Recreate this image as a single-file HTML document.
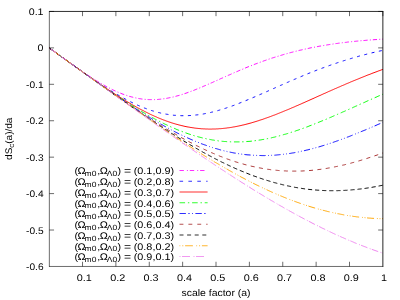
<!DOCTYPE html>
<html><head><meta charset="utf-8"><title>dSc(a)/da</title>
<style>html,body{margin:0;padding:0;background:#fff;}body{width:400px;height:300px;overflow:hidden;}svg{display:block;will-change:transform;}text{font-family:"Liberation Sans", sans-serif;fill:#000;text-rendering:geometricPrecision;}</style>
</head><body>
<svg width="400" height="300" viewBox="0 0 400 300">
<rect x="0" y="0" width="400" height="300" fill="#ffffff"/>
<g fill="none" stroke-width="0.95" stroke-linecap="butt" stroke-linejoin="round">
<polyline stroke="#ff00ff" stroke-dasharray="4.2 2.2 1.0 2.0" points="49.1,47.9 50.1,48.6 51.1,49.3 52.1,50.0 53.1,50.7 54.1,51.4 55.1,52.1 56.0,52.8 57.0,53.6 58.0,54.3 59.0,55.0 60.0,55.7 61.0,56.4 61.9,57.1 62.9,57.8 63.9,58.5 64.9,59.2 65.9,59.9 66.9,60.6 67.9,61.3 68.8,62.0 69.8,62.7 70.8,63.4 71.8,64.1 72.8,64.8 73.8,65.5 74.7,66.2 75.7,66.9 76.7,67.6 77.7,68.3 78.7,69.0 79.7,69.6 80.7,70.3 81.6,71.0 82.6,71.7 83.6,72.3 84.6,73.0 85.6,73.7 86.6,74.3 87.5,75.0 88.5,75.6 89.5,76.3 90.5,76.9 91.5,77.6 92.5,78.2 93.4,78.8 94.4,79.5 95.4,80.1 96.4,80.7 97.4,81.3 98.4,81.9 99.4,82.5 100.3,83.1 101.3,83.6 102.3,84.2 103.3,84.8 104.3,85.3 105.3,85.9 106.2,86.4 107.2,86.9 108.2,87.5 109.2,88.0 110.2,88.5 111.2,89.0 112.2,89.5 113.1,90.0 114.1,90.4 115.1,90.9 116.1,91.3 117.1,91.8 118.1,92.2 119.0,92.6 120.0,93.0 121.0,93.4 122.0,93.8 123.0,94.2 124.0,94.5 125.0,94.9 125.9,95.2 126.9,95.5 127.9,95.9 128.9,96.2 129.9,96.5 130.9,96.7 131.8,97.0 132.8,97.2 133.8,97.5 134.8,97.7 135.8,97.9 136.8,98.1 137.7,98.3 138.7,98.5 139.7,98.7 140.7,98.8 141.7,99.0 142.7,99.1 143.7,99.2 144.6,99.3 145.6,99.4 146.6,99.5 147.6,99.5 148.6,99.6 149.6,99.6 150.5,99.6 151.5,99.6 152.5,99.6 153.5,99.6 154.5,99.6 155.5,99.6 156.5,99.5 157.4,99.5 158.4,99.4 159.4,99.3 160.4,99.2 161.4,99.1 162.4,99.0 163.3,98.8 164.3,98.7 165.3,98.6 166.3,98.4 167.3,98.2 168.3,98.0 169.2,97.8 170.2,97.6 171.2,97.4 172.2,97.2 173.2,97.0 174.2,96.7 175.2,96.5 176.1,96.2 177.1,95.9 178.1,95.7 179.1,95.4 180.1,95.1 181.1,94.8 182.0,94.5 183.0,94.2 184.0,93.8 185.0,93.5 186.0,93.2 187.0,92.8 188.0,92.5 188.9,92.1 189.9,91.8 190.9,91.4 191.9,91.0 192.9,90.7 193.9,90.3 194.8,89.9 195.8,89.5 196.8,89.1 197.8,88.7 198.8,88.3 199.8,87.9 200.8,87.5 201.7,87.1 202.7,86.7 203.7,86.2 204.7,85.8 205.7,85.4 206.7,85.0 207.6,84.5 208.6,84.1 209.6,83.7 210.6,83.2 211.6,82.8 212.6,82.4 213.5,81.9 214.5,81.5 215.5,81.1 216.5,80.6 217.5,80.2 218.5,79.7 219.5,79.3 220.4,78.8 221.4,78.4 222.4,78.0 223.4,77.5 224.4,77.1 225.4,76.6 226.3,76.2 227.3,75.8 228.3,75.3 229.3,74.9 230.3,74.5 231.3,74.0 232.3,73.6 233.2,73.2 234.2,72.7 235.2,72.3 236.2,71.9 237.2,71.5 238.2,71.0 239.1,70.6 240.1,70.2 241.1,69.8 242.1,69.4 243.1,69.0 244.1,68.5 245.1,68.1 246.0,67.7 247.0,67.3 248.0,66.9 249.0,66.5 250.0,66.1 251.0,65.8 251.9,65.4 252.9,65.0 253.9,64.6 254.9,64.2 255.9,63.8 256.9,63.5 257.8,63.1 258.8,62.7 259.8,62.4 260.8,62.0 261.8,61.7 262.8,61.3 263.8,60.9 264.7,60.6 265.7,60.3 266.7,59.9 267.7,59.6 268.7,59.2 269.7,58.9 270.6,58.6 271.6,58.2 272.6,57.9 273.6,57.6 274.6,57.3 275.6,57.0 276.6,56.7 277.5,56.4 278.5,56.1 279.5,55.8 280.5,55.5 281.5,55.2 282.5,54.9 283.4,54.6 284.4,54.3 285.4,54.0 286.4,53.8 287.4,53.5 288.4,53.2 289.3,52.9 290.3,52.7 291.3,52.4 292.3,52.2 293.3,51.9 294.3,51.7 295.3,51.4 296.2,51.2 297.2,50.9 298.2,50.7 299.2,50.4 300.2,50.2 301.2,50.0 302.1,49.8 303.1,49.5 304.1,49.3 305.1,49.1 306.1,48.9 307.1,48.7 308.1,48.5 309.0,48.2 310.0,48.0 311.0,47.8 312.0,47.6 313.0,47.4 314.0,47.3 314.9,47.1 315.9,46.9 316.9,46.7 317.9,46.5 318.9,46.3 319.9,46.1 320.9,46.0 321.8,45.8 322.8,45.6 323.8,45.5 324.8,45.3 325.8,45.1 326.8,45.0 327.7,44.8 328.7,44.7 329.7,44.5 330.7,44.4 331.7,44.2 332.7,44.1 333.6,43.9 334.6,43.8 335.6,43.6 336.6,43.5 337.6,43.4 338.6,43.2 339.6,43.1 340.5,43.0 341.5,42.9 342.5,42.7 343.5,42.6 344.5,42.5 345.5,42.4 346.4,42.3 347.4,42.1 348.4,42.0 349.4,41.9 350.4,41.8 351.4,41.7 352.4,41.6 353.3,41.5 354.3,41.4 355.3,41.3 356.3,41.2 357.3,41.1 358.3,41.0 359.2,40.9 360.2,40.8 361.2,40.7 362.2,40.6 363.2,40.6 364.2,40.5 365.2,40.4 366.1,40.3 367.1,40.2 368.1,40.1 369.1,40.1 370.1,40.0 371.1,39.9 372.0,39.8 373.0,39.8 374.0,39.7 375.0,39.6 376.0,39.6 377.0,39.5 377.9,39.4 378.9,39.4 379.9,39.3 380.9,39.2 381.9,39.2 382.9,39.1"/>
<polyline stroke="#0000ff" stroke-dasharray="3.0 4.5" points="49.1,47.9 50.1,48.6 51.1,49.3 52.1,50.0 53.1,50.7 54.1,51.4 55.1,52.1 56.0,52.8 57.0,53.6 58.0,54.3 59.0,55.0 60.0,55.7 61.0,56.4 61.9,57.1 62.9,57.8 63.9,58.5 64.9,59.2 65.9,59.9 66.9,60.6 67.9,61.3 68.8,62.0 69.8,62.8 70.8,63.5 71.8,64.2 72.8,64.9 73.8,65.6 74.7,66.3 75.7,67.0 76.7,67.7 77.7,68.4 78.7,69.1 79.7,69.8 80.7,70.5 81.6,71.2 82.6,71.9 83.6,72.5 84.6,73.2 85.6,73.9 86.6,74.6 87.5,75.3 88.5,76.0 89.5,76.7 90.5,77.3 91.5,78.0 92.5,78.7 93.4,79.4 94.4,80.0 95.4,80.7 96.4,81.4 97.4,82.0 98.4,82.7 99.4,83.3 100.3,84.0 101.3,84.6 102.3,85.3 103.3,85.9 104.3,86.6 105.3,87.2 106.2,87.8 107.2,88.5 108.2,89.1 109.2,89.7 110.2,90.3 111.2,90.9 112.2,91.5 113.1,92.1 114.1,92.7 115.1,93.3 116.1,93.9 117.1,94.5 118.1,95.0 119.0,95.6 120.0,96.2 121.0,96.7 122.0,97.3 123.0,97.8 124.0,98.4 125.0,98.9 125.9,99.4 126.9,100.0 127.9,100.5 128.9,101.0 129.9,101.5 130.9,102.0 131.8,102.4 132.8,102.9 133.8,103.4 134.8,103.9 135.8,104.3 136.8,104.8 137.7,105.2 138.7,105.6 139.7,106.1 140.7,106.5 141.7,106.9 142.7,107.3 143.7,107.7 144.6,108.1 145.6,108.4 146.6,108.8 147.6,109.2 148.6,109.5 149.6,109.8 150.5,110.2 151.5,110.5 152.5,110.8 153.5,111.1 154.5,111.4 155.5,111.7 156.5,112.0 157.4,112.2 158.4,112.5 159.4,112.7 160.4,113.0 161.4,113.2 162.4,113.4 163.3,113.6 164.3,113.8 165.3,114.0 166.3,114.2 167.3,114.3 168.3,114.5 169.2,114.7 170.2,114.8 171.2,114.9 172.2,115.0 173.2,115.2 174.2,115.3 175.2,115.3 176.1,115.4 177.1,115.5 178.1,115.6 179.1,115.6 180.1,115.6 181.1,115.7 182.0,115.7 183.0,115.7 184.0,115.7 185.0,115.7 186.0,115.7 187.0,115.7 188.0,115.6 188.9,115.6 189.9,115.5 190.9,115.5 191.9,115.4 192.9,115.3 193.9,115.2 194.8,115.1 195.8,115.0 196.8,114.9 197.8,114.8 198.8,114.7 199.8,114.5 200.8,114.4 201.7,114.2 202.7,114.1 203.7,113.9 204.7,113.7 205.7,113.5 206.7,113.3 207.6,113.1 208.6,112.9 209.6,112.7 210.6,112.5 211.6,112.2 212.6,112.0 213.5,111.7 214.5,111.5 215.5,111.2 216.5,111.0 217.5,110.7 218.5,110.4 219.5,110.1 220.4,109.8 221.4,109.5 222.4,109.2 223.4,108.9 224.4,108.6 225.4,108.3 226.3,108.0 227.3,107.6 228.3,107.3 229.3,107.0 230.3,106.6 231.3,106.3 232.3,105.9 233.2,105.6 234.2,105.2 235.2,104.8 236.2,104.5 237.2,104.1 238.2,103.7 239.1,103.3 240.1,102.9 241.1,102.5 242.1,102.1 243.1,101.8 244.1,101.4 245.1,100.9 246.0,100.5 247.0,100.1 248.0,99.7 249.0,99.3 250.0,98.9 251.0,98.5 251.9,98.1 252.9,97.6 253.9,97.2 254.9,96.8 255.9,96.4 256.9,95.9 257.8,95.5 258.8,95.1 259.8,94.6 260.8,94.2 261.8,93.8 262.8,93.3 263.8,92.9 264.7,92.5 265.7,92.0 266.7,91.6 267.7,91.2 268.7,90.7 269.7,90.3 270.6,89.8 271.6,89.4 272.6,89.0 273.6,88.5 274.6,88.1 275.6,87.6 276.6,87.2 277.5,86.8 278.5,86.3 279.5,85.9 280.5,85.4 281.5,85.0 282.5,84.6 283.4,84.1 284.4,83.7 285.4,83.3 286.4,82.8 287.4,82.4 288.4,82.0 289.3,81.5 290.3,81.1 291.3,80.7 292.3,80.2 293.3,79.8 294.3,79.4 295.3,79.0 296.2,78.6 297.2,78.1 298.2,77.7 299.2,77.3 300.2,76.9 301.2,76.5 302.1,76.1 303.1,75.7 304.1,75.3 305.1,74.8 306.1,74.4 307.1,74.0 308.1,73.6 309.0,73.2 310.0,72.9 311.0,72.5 312.0,72.1 313.0,71.7 314.0,71.3 314.9,70.9 315.9,70.5 316.9,70.1 317.9,69.8 318.9,69.4 319.9,69.0 320.9,68.7 321.8,68.3 322.8,67.9 323.8,67.6 324.8,67.2 325.8,66.8 326.8,66.5 327.7,66.1 328.7,65.8 329.7,65.4 330.7,65.1 331.7,64.7 332.7,64.4 333.6,64.1 334.6,63.7 335.6,63.4 336.6,63.1 337.6,62.7 338.6,62.4 339.6,62.1 340.5,61.8 341.5,61.4 342.5,61.1 343.5,60.8 344.5,60.5 345.5,60.2 346.4,59.9 347.4,59.6 348.4,59.3 349.4,59.0 350.4,58.7 351.4,58.4 352.4,58.1 353.3,57.8 354.3,57.5 355.3,57.3 356.3,57.0 357.3,56.7 358.3,56.4 359.2,56.1 360.2,55.9 361.2,55.6 362.2,55.3 363.2,55.1 364.2,54.8 365.2,54.6 366.1,54.3 367.1,54.1 368.1,53.8 369.1,53.6 370.1,53.3 371.1,53.1 372.0,52.8 373.0,52.6 374.0,52.4 375.0,52.1 376.0,51.9 377.0,51.7 377.9,51.5 378.9,51.2 379.9,51.0 380.9,50.8 381.9,50.6 382.9,50.4"/>
<polyline stroke="#ff0000" points="49.1,47.9 50.1,48.6 51.1,49.3 52.1,50.0 53.1,50.7 54.1,51.4 55.1,52.1 56.0,52.8 57.0,53.6 58.0,54.3 59.0,55.0 60.0,55.7 61.0,56.4 61.9,57.1 62.9,57.8 63.9,58.5 64.9,59.2 65.9,59.9 66.9,60.6 67.9,61.3 68.8,62.1 69.8,62.8 70.8,63.5 71.8,64.2 72.8,64.9 73.8,65.6 74.7,66.3 75.7,67.0 76.7,67.7 77.7,68.4 78.7,69.1 79.7,69.8 80.7,70.5 81.6,71.2 82.6,71.9 83.6,72.6 84.6,73.3 85.6,74.0 86.6,74.7 87.5,75.4 88.5,76.1 89.5,76.8 90.5,77.5 91.5,78.2 92.5,78.9 93.4,79.5 94.4,80.2 95.4,80.9 96.4,81.6 97.4,82.3 98.4,83.0 99.4,83.6 100.3,84.3 101.3,85.0 102.3,85.7 103.3,86.3 104.3,87.0 105.3,87.7 106.2,88.3 107.2,89.0 108.2,89.6 109.2,90.3 110.2,90.9 111.2,91.6 112.2,92.2 113.1,92.9 114.1,93.5 115.1,94.2 116.1,94.8 117.1,95.4 118.1,96.1 119.0,96.7 120.0,97.3 121.0,97.9 122.0,98.5 123.0,99.1 124.0,99.8 125.0,100.4 125.9,101.0 126.9,101.6 127.9,102.1 128.9,102.7 129.9,103.3 130.9,103.9 131.8,104.5 132.8,105.0 133.8,105.6 134.8,106.1 135.8,106.7 136.8,107.3 137.7,107.8 138.7,108.3 139.7,108.9 140.7,109.4 141.7,109.9 142.7,110.4 143.7,110.9 144.6,111.4 145.6,111.9 146.6,112.4 147.6,112.9 148.6,113.4 149.6,113.9 150.5,114.4 151.5,114.8 152.5,115.3 153.5,115.7 154.5,116.2 155.5,116.6 156.5,117.0 157.4,117.5 158.4,117.9 159.4,118.3 160.4,118.7 161.4,119.1 162.4,119.5 163.3,119.9 164.3,120.2 165.3,120.6 166.3,121.0 167.3,121.3 168.3,121.7 169.2,122.0 170.2,122.3 171.2,122.7 172.2,123.0 173.2,123.3 174.2,123.6 175.2,123.9 176.1,124.2 177.1,124.4 178.1,124.7 179.1,125.0 180.1,125.2 181.1,125.5 182.0,125.7 183.0,125.9 184.0,126.2 185.0,126.4 186.0,126.6 187.0,126.8 188.0,127.0 188.9,127.1 189.9,127.3 190.9,127.5 191.9,127.6 192.9,127.8 193.9,127.9 194.8,128.1 195.8,128.2 196.8,128.3 197.8,128.4 198.8,128.5 199.8,128.6 200.8,128.7 201.7,128.8 202.7,128.8 203.7,128.9 204.7,128.9 205.7,129.0 206.7,129.0 207.6,129.0 208.6,129.1 209.6,129.1 210.6,129.1 211.6,129.1 212.6,129.0 213.5,129.0 214.5,129.0 215.5,129.0 216.5,128.9 217.5,128.9 218.5,128.8 219.5,128.7 220.4,128.7 221.4,128.6 222.4,128.5 223.4,128.4 224.4,128.3 225.4,128.2 226.3,128.1 227.3,127.9 228.3,127.8 229.3,127.7 230.3,127.5 231.3,127.4 232.3,127.2 233.2,127.0 234.2,126.9 235.2,126.7 236.2,126.5 237.2,126.3 238.2,126.1 239.1,125.9 240.1,125.7 241.1,125.5 242.1,125.2 243.1,125.0 244.1,124.8 245.1,124.5 246.0,124.3 247.0,124.0 248.0,123.8 249.0,123.5 250.0,123.2 251.0,123.0 251.9,122.7 252.9,122.4 253.9,122.1 254.9,121.8 255.9,121.5 256.9,121.2 257.8,120.9 258.8,120.6 259.8,120.2 260.8,119.9 261.8,119.6 262.8,119.3 263.8,118.9 264.7,118.6 265.7,118.2 266.7,117.9 267.7,117.5 268.7,117.2 269.7,116.8 270.6,116.5 271.6,116.1 272.6,115.7 273.6,115.3 274.6,115.0 275.6,114.6 276.6,114.2 277.5,113.8 278.5,113.4 279.5,113.0 280.5,112.6 281.5,112.2 282.5,111.8 283.4,111.4 284.4,111.0 285.4,110.6 286.4,110.2 287.4,109.8 288.4,109.4 289.3,109.0 290.3,108.6 291.3,108.1 292.3,107.7 293.3,107.3 294.3,106.9 295.3,106.4 296.2,106.0 297.2,105.6 298.2,105.2 299.2,104.7 300.2,104.3 301.2,103.9 302.1,103.4 303.1,103.0 304.1,102.6 305.1,102.1 306.1,101.7 307.1,101.2 308.1,100.8 309.0,100.4 310.0,99.9 311.0,99.5 312.0,99.0 313.0,98.6 314.0,98.2 314.9,97.7 315.9,97.3 316.9,96.8 317.9,96.4 318.9,95.9 319.9,95.5 320.9,95.1 321.8,94.6 322.8,94.2 323.8,93.7 324.8,93.3 325.8,92.9 326.8,92.4 327.7,92.0 328.7,91.5 329.7,91.1 330.7,90.7 331.7,90.2 332.7,89.8 333.6,89.4 334.6,88.9 335.6,88.5 336.6,88.1 337.6,87.6 338.6,87.2 339.6,86.8 340.5,86.4 341.5,85.9 342.5,85.5 343.5,85.1 344.5,84.7 345.5,84.2 346.4,83.8 347.4,83.4 348.4,83.0 349.4,82.6 350.4,82.1 351.4,81.7 352.4,81.3 353.3,80.9 354.3,80.5 355.3,80.1 356.3,79.7 357.3,79.3 358.3,78.9 359.2,78.5 360.2,78.1 361.2,77.7 362.2,77.3 363.2,76.9 364.2,76.5 365.2,76.1 366.1,75.7 367.1,75.3 368.1,74.9 369.1,74.6 370.1,74.2 371.1,73.8 372.0,73.4 373.0,73.0 374.0,72.7 375.0,72.3 376.0,71.9 377.0,71.6 377.9,71.2 378.9,70.8 379.9,70.5 380.9,70.1 381.9,69.7 382.9,69.4"/>
<polyline stroke="#00ff00" stroke-dasharray="5.6 2.7 1.3 2.8" points="49.1,47.9 50.1,48.6 51.1,49.3 52.1,50.0 53.1,50.7 54.1,51.4 55.1,52.1 56.0,52.8 57.0,53.6 58.0,54.3 59.0,55.0 60.0,55.7 61.0,56.4 61.9,57.1 62.9,57.8 63.9,58.5 64.9,59.2 65.9,59.9 66.9,60.6 67.9,61.4 68.8,62.1 69.8,62.8 70.8,63.5 71.8,64.2 72.8,64.9 73.8,65.6 74.7,66.3 75.7,67.0 76.7,67.7 77.7,68.4 78.7,69.1 79.7,69.8 80.7,70.5 81.6,71.2 82.6,71.9 83.6,72.6 84.6,73.3 85.6,74.0 86.6,74.7 87.5,75.4 88.5,76.1 89.5,76.8 90.5,77.5 91.5,78.2 92.5,78.9 93.4,79.6 94.4,80.3 95.4,81.0 96.4,81.7 97.4,82.4 98.4,83.1 99.4,83.8 100.3,84.5 101.3,85.2 102.3,85.8 103.3,86.5 104.3,87.2 105.3,87.9 106.2,88.6 107.2,89.2 108.2,89.9 109.2,90.6 110.2,91.3 111.2,91.9 112.2,92.6 113.1,93.3 114.1,93.9 115.1,94.6 116.1,95.3 117.1,95.9 118.1,96.6 119.0,97.2 120.0,97.9 121.0,98.5 122.0,99.2 123.0,99.8 124.0,100.5 125.0,101.1 125.9,101.7 126.9,102.4 127.9,103.0 128.9,103.6 129.9,104.3 130.9,104.9 131.8,105.5 132.8,106.1 133.8,106.7 134.8,107.3 135.8,107.9 136.8,108.6 137.7,109.2 138.7,109.7 139.7,110.3 140.7,110.9 141.7,111.5 142.7,112.1 143.7,112.7 144.6,113.2 145.6,113.8 146.6,114.4 147.6,114.9 148.6,115.5 149.6,116.1 150.5,116.6 151.5,117.1 152.5,117.7 153.5,118.2 154.5,118.8 155.5,119.3 156.5,119.8 157.4,120.3 158.4,120.8 159.4,121.3 160.4,121.8 161.4,122.3 162.4,122.8 163.3,123.3 164.3,123.8 165.3,124.3 166.3,124.7 167.3,125.2 168.3,125.7 169.2,126.1 170.2,126.6 171.2,127.0 172.2,127.5 173.2,127.9 174.2,128.3 175.2,128.7 176.1,129.2 177.1,129.6 178.1,130.0 179.1,130.4 180.1,130.7 181.1,131.1 182.0,131.5 183.0,131.9 184.0,132.3 185.0,132.6 186.0,133.0 187.0,133.3 188.0,133.7 188.9,134.0 189.9,134.3 190.9,134.6 191.9,134.9 192.9,135.3 193.9,135.6 194.8,135.9 195.8,136.1 196.8,136.4 197.8,136.7 198.8,137.0 199.8,137.2 200.8,137.5 201.7,137.7 202.7,138.0 203.7,138.2 204.7,138.4 205.7,138.6 206.7,138.9 207.6,139.1 208.6,139.3 209.6,139.4 210.6,139.6 211.6,139.8 212.6,140.0 213.5,140.1 214.5,140.3 215.5,140.4 216.5,140.6 217.5,140.7 218.5,140.9 219.5,141.0 220.4,141.1 221.4,141.2 222.4,141.3 223.4,141.4 224.4,141.5 225.4,141.5 226.3,141.6 227.3,141.7 228.3,141.7 229.3,141.8 230.3,141.8 231.3,141.9 232.3,141.9 233.2,141.9 234.2,141.9 235.2,141.9 236.2,141.9 237.2,141.9 238.2,141.9 239.1,141.9 240.1,141.9 241.1,141.9 242.1,141.8 243.1,141.8 244.1,141.7 245.1,141.7 246.0,141.6 247.0,141.5 248.0,141.4 249.0,141.4 250.0,141.3 251.0,141.2 251.9,141.1 252.9,141.0 253.9,140.8 254.9,140.7 255.9,140.6 256.9,140.5 257.8,140.3 258.8,140.2 259.8,140.0 260.8,139.9 261.8,139.7 262.8,139.5 263.8,139.4 264.7,139.2 265.7,139.0 266.7,138.8 267.7,138.6 268.7,138.4 269.7,138.2 270.6,138.0 271.6,137.8 272.6,137.5 273.6,137.3 274.6,137.1 275.6,136.8 276.6,136.6 277.5,136.3 278.5,136.1 279.5,135.8 280.5,135.6 281.5,135.3 282.5,135.0 283.4,134.7 284.4,134.4 285.4,134.2 286.4,133.9 287.4,133.6 288.4,133.3 289.3,133.0 290.3,132.7 291.3,132.3 292.3,132.0 293.3,131.7 294.3,131.4 295.3,131.1 296.2,130.7 297.2,130.4 298.2,130.1 299.2,129.7 300.2,129.4 301.2,129.0 302.1,128.7 303.1,128.3 304.1,128.0 305.1,127.6 306.1,127.2 307.1,126.9 308.1,126.5 309.0,126.1 310.0,125.7 311.0,125.4 312.0,125.0 313.0,124.6 314.0,124.2 314.9,123.8 315.9,123.4 316.9,123.0 317.9,122.6 318.9,122.2 319.9,121.8 320.9,121.4 321.8,121.0 322.8,120.6 323.8,120.2 324.8,119.8 325.8,119.4 326.8,119.0 327.7,118.5 328.7,118.1 329.7,117.7 330.7,117.3 331.7,116.9 332.7,116.4 333.6,116.0 334.6,115.6 335.6,115.2 336.6,114.7 337.6,114.3 338.6,113.9 339.6,113.4 340.5,113.0 341.5,112.6 342.5,112.1 343.5,111.7 344.5,111.3 345.5,110.8 346.4,110.4 347.4,110.0 348.4,109.5 349.4,109.1 350.4,108.6 351.4,108.2 352.4,107.8 353.3,107.3 354.3,106.9 355.3,106.4 356.3,106.0 357.3,105.6 358.3,105.1 359.2,104.7 360.2,104.2 361.2,103.8 362.2,103.3 363.2,102.9 364.2,102.5 365.2,102.0 366.1,101.6 367.1,101.1 368.1,100.7 369.1,100.3 370.1,99.8 371.1,99.4 372.0,98.9 373.0,98.5 374.0,98.1 375.0,97.6 376.0,97.2 377.0,96.8 377.9,96.3 378.9,95.9 379.9,95.5 380.9,95.0 381.9,94.6 382.9,94.2"/>
<polyline stroke="#0000ff" stroke-dasharray="6.2 2.6 0.8 2.3 0.8 2.3" points="49.1,47.9 50.1,48.6 51.1,49.3 52.1,50.0 53.1,50.7 54.1,51.4 55.1,52.1 56.0,52.8 57.0,53.6 58.0,54.3 59.0,55.0 60.0,55.7 61.0,56.4 61.9,57.1 62.9,57.8 63.9,58.5 64.9,59.2 65.9,59.9 66.9,60.6 67.9,61.4 68.8,62.1 69.8,62.8 70.8,63.5 71.8,64.2 72.8,64.9 73.8,65.6 74.7,66.3 75.7,67.0 76.7,67.7 77.7,68.4 78.7,69.1 79.7,69.8 80.7,70.5 81.6,71.3 82.6,72.0 83.6,72.7 84.6,73.4 85.6,74.1 86.6,74.8 87.5,75.5 88.5,76.2 89.5,76.9 90.5,77.6 91.5,78.3 92.5,79.0 93.4,79.7 94.4,80.4 95.4,81.1 96.4,81.8 97.4,82.5 98.4,83.2 99.4,83.9 100.3,84.6 101.3,85.3 102.3,86.0 103.3,86.6 104.3,87.3 105.3,88.0 106.2,88.7 107.2,89.4 108.2,90.1 109.2,90.8 110.2,91.5 111.2,92.1 112.2,92.8 113.1,93.5 114.1,94.2 115.1,94.9 116.1,95.5 117.1,96.2 118.1,96.9 119.0,97.6 120.0,98.2 121.0,98.9 122.0,99.6 123.0,100.2 124.0,100.9 125.0,101.6 125.9,102.2 126.9,102.9 127.9,103.5 128.9,104.2 129.9,104.8 130.9,105.5 131.8,106.1 132.8,106.8 133.8,107.4 134.8,108.1 135.8,108.7 136.8,109.4 137.7,110.0 138.7,110.6 139.7,111.3 140.7,111.9 141.7,112.5 142.7,113.1 143.7,113.7 144.6,114.4 145.6,115.0 146.6,115.6 147.6,116.2 148.6,116.8 149.6,117.4 150.5,118.0 151.5,118.6 152.5,119.2 153.5,119.8 154.5,120.4 155.5,121.0 156.5,121.5 157.4,122.1 158.4,122.7 159.4,123.3 160.4,123.8 161.4,124.4 162.4,124.9 163.3,125.5 164.3,126.1 165.3,126.6 166.3,127.1 167.3,127.7 168.3,128.2 169.2,128.8 170.2,129.3 171.2,129.8 172.2,130.3 173.2,130.8 174.2,131.4 175.2,131.9 176.1,132.4 177.1,132.9 178.1,133.4 179.1,133.9 180.1,134.3 181.1,134.8 182.0,135.3 183.0,135.8 184.0,136.2 185.0,136.7 186.0,137.2 187.0,137.6 188.0,138.1 188.9,138.5 189.9,138.9 190.9,139.4 191.9,139.8 192.9,140.2 193.9,140.6 194.8,141.0 195.8,141.5 196.8,141.9 197.8,142.3 198.8,142.6 199.8,143.0 200.8,143.4 201.7,143.8 202.7,144.2 203.7,144.5 204.7,144.9 205.7,145.2 206.7,145.6 207.6,145.9 208.6,146.3 209.6,146.6 210.6,146.9 211.6,147.2 212.6,147.6 213.5,147.9 214.5,148.2 215.5,148.5 216.5,148.7 217.5,149.0 218.5,149.3 219.5,149.6 220.4,149.9 221.4,150.1 222.4,150.4 223.4,150.6 224.4,150.9 225.4,151.1 226.3,151.3 227.3,151.6 228.3,151.8 229.3,152.0 230.3,152.2 231.3,152.4 232.3,152.6 233.2,152.8 234.2,153.0 235.2,153.1 236.2,153.3 237.2,153.5 238.2,153.6 239.1,153.8 240.1,153.9 241.1,154.1 242.1,154.2 243.1,154.3 244.1,154.4 245.1,154.6 246.0,154.7 247.0,154.8 248.0,154.9 249.0,154.9 250.0,155.0 251.0,155.1 251.9,155.2 252.9,155.2 253.9,155.3 254.9,155.4 255.9,155.4 256.9,155.4 257.8,155.5 258.8,155.5 259.8,155.5 260.8,155.5 261.8,155.6 262.8,155.6 263.8,155.6 264.7,155.6 265.7,155.5 266.7,155.5 267.7,155.5 268.7,155.5 269.7,155.4 270.6,155.4 271.6,155.3 272.6,155.3 273.6,155.2 274.6,155.2 275.6,155.1 276.6,155.0 277.5,154.9 278.5,154.8 279.5,154.7 280.5,154.6 281.5,154.5 282.5,154.4 283.4,154.3 284.4,154.2 285.4,154.1 286.4,153.9 287.4,153.8 288.4,153.7 289.3,153.5 290.3,153.4 291.3,153.2 292.3,153.0 293.3,152.9 294.3,152.7 295.3,152.5 296.2,152.3 297.2,152.1 298.2,152.0 299.2,151.8 300.2,151.6 301.2,151.3 302.1,151.1 303.1,150.9 304.1,150.7 305.1,150.5 306.1,150.2 307.1,150.0 308.1,149.8 309.0,149.5 310.0,149.3 311.0,149.0 312.0,148.8 313.0,148.5 314.0,148.2 314.9,148.0 315.9,147.7 316.9,147.4 317.9,147.1 318.9,146.9 319.9,146.6 320.9,146.3 321.8,146.0 322.8,145.7 323.8,145.4 324.8,145.1 325.8,144.8 326.8,144.4 327.7,144.1 328.7,143.8 329.7,143.5 330.7,143.2 331.7,142.8 332.7,142.5 333.6,142.2 334.6,141.8 335.6,141.5 336.6,141.1 337.6,140.8 338.6,140.4 339.6,140.1 340.5,139.7 341.5,139.4 342.5,139.0 343.5,138.6 344.5,138.3 345.5,137.9 346.4,137.5 347.4,137.1 348.4,136.8 349.4,136.4 350.4,136.0 351.4,135.6 352.4,135.2 353.3,134.8 354.3,134.4 355.3,134.0 356.3,133.6 357.3,133.2 358.3,132.8 359.2,132.4 360.2,132.0 361.2,131.6 362.2,131.2 363.2,130.8 364.2,130.4 365.2,130.0 366.1,129.6 367.1,129.2 368.1,128.8 369.1,128.3 370.1,127.9 371.1,127.5 372.0,127.1 373.0,126.7 374.0,126.2 375.0,125.8 376.0,125.4 377.0,124.9 377.9,124.5 378.9,124.1 379.9,123.7 380.9,123.2 381.9,122.8 382.9,122.4"/>
<polyline stroke="#a52a2a" stroke-dasharray="4.0 4.4" points="49.1,47.9 50.1,48.6 51.1,49.3 52.1,50.0 53.1,50.7 54.1,51.4 55.1,52.1 56.0,52.8 57.0,53.6 58.0,54.3 59.0,55.0 60.0,55.7 61.0,56.4 61.9,57.1 62.9,57.8 63.9,58.5 64.9,59.2 65.9,59.9 66.9,60.6 67.9,61.4 68.8,62.1 69.8,62.8 70.8,63.5 71.8,64.2 72.8,64.9 73.8,65.6 74.7,66.3 75.7,67.0 76.7,67.7 77.7,68.4 78.7,69.1 79.7,69.9 80.7,70.6 81.6,71.3 82.6,72.0 83.6,72.7 84.6,73.4 85.6,74.1 86.6,74.8 87.5,75.5 88.5,76.2 89.5,76.9 90.5,77.6 91.5,78.3 92.5,79.0 93.4,79.7 94.4,80.4 95.4,81.1 96.4,81.8 97.4,82.5 98.4,83.2 99.4,83.9 100.3,84.6 101.3,85.3 102.3,86.0 103.3,86.7 104.3,87.4 105.3,88.1 106.2,88.8 107.2,89.5 108.2,90.2 109.2,90.9 110.2,91.6 111.2,92.3 112.2,93.0 113.1,93.7 114.1,94.4 115.1,95.0 116.1,95.7 117.1,96.4 118.1,97.1 119.0,97.8 120.0,98.5 121.0,99.2 122.0,99.8 123.0,100.5 124.0,101.2 125.0,101.9 125.9,102.5 126.9,103.2 127.9,103.9 128.9,104.6 129.9,105.2 130.9,105.9 131.8,106.6 132.8,107.2 133.8,107.9 134.8,108.6 135.8,109.2 136.8,109.9 137.7,110.6 138.7,111.2 139.7,111.9 140.7,112.5 141.7,113.2 142.7,113.8 143.7,114.5 144.6,115.1 145.6,115.8 146.6,116.4 147.6,117.1 148.6,117.7 149.6,118.3 150.5,119.0 151.5,119.6 152.5,120.2 153.5,120.9 154.5,121.5 155.5,122.1 156.5,122.7 157.4,123.3 158.4,124.0 159.4,124.6 160.4,125.2 161.4,125.8 162.4,126.4 163.3,127.0 164.3,127.6 165.3,128.2 166.3,128.8 167.3,129.4 168.3,130.0 169.2,130.6 170.2,131.2 171.2,131.7 172.2,132.3 173.2,132.9 174.2,133.5 175.2,134.0 176.1,134.6 177.1,135.2 178.1,135.7 179.1,136.3 180.1,136.9 181.1,137.4 182.0,138.0 183.0,138.5 184.0,139.0 185.0,139.6 186.0,140.1 187.0,140.6 188.0,141.2 188.9,141.7 189.9,142.2 190.9,142.7 191.9,143.2 192.9,143.8 193.9,144.3 194.8,144.8 195.8,145.3 196.8,145.8 197.8,146.2 198.8,146.7 199.8,147.2 200.8,147.7 201.7,148.2 202.7,148.6 203.7,149.1 204.7,149.6 205.7,150.0 206.7,150.5 207.6,150.9 208.6,151.4 209.6,151.8 210.6,152.2 211.6,152.7 212.6,153.1 213.5,153.5 214.5,153.9 215.5,154.4 216.5,154.8 217.5,155.2 218.5,155.6 219.5,156.0 220.4,156.4 221.4,156.7 222.4,157.1 223.4,157.5 224.4,157.9 225.4,158.2 226.3,158.6 227.3,159.0 228.3,159.3 229.3,159.7 230.3,160.0 231.3,160.4 232.3,160.7 233.2,161.0 234.2,161.3 235.2,161.7 236.2,162.0 237.2,162.3 238.2,162.6 239.1,162.9 240.1,163.2 241.1,163.5 242.1,163.7 243.1,164.0 244.1,164.3 245.1,164.6 246.0,164.8 247.0,165.1 248.0,165.3 249.0,165.6 250.0,165.8 251.0,166.1 251.9,166.3 252.9,166.5 253.9,166.7 254.9,166.9 255.9,167.2 256.9,167.4 257.8,167.6 258.8,167.8 259.8,167.9 260.8,168.1 261.8,168.3 262.8,168.5 263.8,168.6 264.7,168.8 265.7,169.0 266.7,169.1 267.7,169.3 268.7,169.4 269.7,169.5 270.6,169.7 271.6,169.8 272.6,169.9 273.6,170.0 274.6,170.1 275.6,170.2 276.6,170.3 277.5,170.4 278.5,170.5 279.5,170.6 280.5,170.7 281.5,170.7 282.5,170.8 283.4,170.8 284.4,170.9 285.4,170.9 286.4,171.0 287.4,171.0 288.4,171.1 289.3,171.1 290.3,171.1 291.3,171.1 292.3,171.1 293.3,171.1 294.3,171.1 295.3,171.1 296.2,171.1 297.2,171.1 298.2,171.1 299.2,171.1 300.2,171.0 301.2,171.0 302.1,171.0 303.1,170.9 304.1,170.9 305.1,170.8 306.1,170.8 307.1,170.7 308.1,170.6 309.0,170.5 310.0,170.5 311.0,170.4 312.0,170.3 313.0,170.2 314.0,170.1 314.9,170.0 315.9,169.9 316.9,169.8 317.9,169.6 318.9,169.5 319.9,169.4 320.9,169.3 321.8,169.1 322.8,169.0 323.8,168.8 324.8,168.7 325.8,168.5 326.8,168.4 327.7,168.2 328.7,168.0 329.7,167.9 330.7,167.7 331.7,167.5 332.7,167.3 333.6,167.1 334.6,166.9 335.6,166.7 336.6,166.5 337.6,166.3 338.6,166.1 339.6,165.9 340.5,165.7 341.5,165.5 342.5,165.2 343.5,165.0 344.5,164.8 345.5,164.5 346.4,164.3 347.4,164.0 348.4,163.8 349.4,163.5 350.4,163.3 351.4,163.0 352.4,162.7 353.3,162.5 354.3,162.2 355.3,161.9 356.3,161.6 357.3,161.4 358.3,161.1 359.2,160.8 360.2,160.5 361.2,160.2 362.2,159.9 363.2,159.6 364.2,159.3 365.2,159.0 366.1,158.7 367.1,158.4 368.1,158.0 369.1,157.7 370.1,157.4 371.1,157.1 372.0,156.7 373.0,156.4 374.0,156.1 375.0,155.7 376.0,155.4 377.0,155.1 377.9,154.7 378.9,154.4 379.9,154.0 380.9,153.7 381.9,153.3 382.9,152.9"/>
<polyline stroke="#000000" stroke-dasharray="4.2 2.9" points="49.1,47.9 50.1,48.6 51.1,49.3 52.1,50.0 53.1,50.7 54.1,51.4 55.1,52.1 56.0,52.8 57.0,53.6 58.0,54.3 59.0,55.0 60.0,55.7 61.0,56.4 61.9,57.1 62.9,57.8 63.9,58.5 64.9,59.2 65.9,59.9 66.9,60.6 67.9,61.4 68.8,62.1 69.8,62.8 70.8,63.5 71.8,64.2 72.8,64.9 73.8,65.6 74.7,66.3 75.7,67.0 76.7,67.7 77.7,68.4 78.7,69.1 79.7,69.9 80.7,70.6 81.6,71.3 82.6,72.0 83.6,72.7 84.6,73.4 85.6,74.1 86.6,74.8 87.5,75.5 88.5,76.2 89.5,76.9 90.5,77.6 91.5,78.3 92.5,79.0 93.4,79.7 94.4,80.5 95.4,81.2 96.4,81.9 97.4,82.6 98.4,83.3 99.4,84.0 100.3,84.7 101.3,85.4 102.3,86.1 103.3,86.8 104.3,87.5 105.3,88.2 106.2,88.9 107.2,89.6 108.2,90.3 109.2,91.0 110.2,91.7 111.2,92.4 112.2,93.1 113.1,93.8 114.1,94.5 115.1,95.2 116.1,95.9 117.1,96.6 118.1,97.3 119.0,97.9 120.0,98.6 121.0,99.3 122.0,100.0 123.0,100.7 124.0,101.4 125.0,102.1 125.9,102.8 126.9,103.5 127.9,104.2 128.9,104.8 129.9,105.5 130.9,106.2 131.8,106.9 132.8,107.6 133.8,108.3 134.8,108.9 135.8,109.6 136.8,110.3 137.7,111.0 138.7,111.6 139.7,112.3 140.7,113.0 141.7,113.7 142.7,114.3 143.7,115.0 144.6,115.7 145.6,116.3 146.6,117.0 147.6,117.7 148.6,118.3 149.6,119.0 150.5,119.7 151.5,120.3 152.5,121.0 153.5,121.6 154.5,122.3 155.5,122.9 156.5,123.6 157.4,124.2 158.4,124.9 159.4,125.5 160.4,126.2 161.4,126.8 162.4,127.5 163.3,128.1 164.3,128.8 165.3,129.4 166.3,130.0 167.3,130.7 168.3,131.3 169.2,131.9 170.2,132.5 171.2,133.2 172.2,133.8 173.2,134.4 174.2,135.0 175.2,135.7 176.1,136.3 177.1,136.9 178.1,137.5 179.1,138.1 180.1,138.7 181.1,139.3 182.0,139.9 183.0,140.5 184.0,141.1 185.0,141.7 186.0,142.3 187.0,142.9 188.0,143.5 188.9,144.1 189.9,144.7 190.9,145.2 191.9,145.8 192.9,146.4 193.9,147.0 194.8,147.5 195.8,148.1 196.8,148.7 197.8,149.2 198.8,149.8 199.8,150.4 200.8,150.9 201.7,151.5 202.7,152.0 203.7,152.6 204.7,153.1 205.7,153.6 206.7,154.2 207.6,154.7 208.6,155.2 209.6,155.8 210.6,156.3 211.6,156.8 212.6,157.3 213.5,157.9 214.5,158.4 215.5,158.9 216.5,159.4 217.5,159.9 218.5,160.4 219.5,160.9 220.4,161.4 221.4,161.9 222.4,162.4 223.4,162.8 224.4,163.3 225.4,163.8 226.3,164.3 227.3,164.7 228.3,165.2 229.3,165.7 230.3,166.1 231.3,166.6 232.3,167.0 233.2,167.5 234.2,167.9 235.2,168.4 236.2,168.8 237.2,169.2 238.2,169.7 239.1,170.1 240.1,170.5 241.1,170.9 242.1,171.3 243.1,171.7 244.1,172.1 245.1,172.5 246.0,172.9 247.0,173.3 248.0,173.7 249.0,174.1 250.0,174.5 251.0,174.9 251.9,175.2 252.9,175.6 253.9,176.0 254.9,176.3 255.9,176.7 256.9,177.0 257.8,177.4 258.8,177.7 259.8,178.1 260.8,178.4 261.8,178.7 262.8,179.1 263.8,179.4 264.7,179.7 265.7,180.0 266.7,180.3 267.7,180.6 268.7,180.9 269.7,181.2 270.6,181.5 271.6,181.8 272.6,182.1 273.6,182.4 274.6,182.7 275.6,182.9 276.6,183.2 277.5,183.4 278.5,183.7 279.5,184.0 280.5,184.2 281.5,184.4 282.5,184.7 283.4,184.9 284.4,185.1 285.4,185.4 286.4,185.6 287.4,185.8 288.4,186.0 289.3,186.2 290.3,186.4 291.3,186.6 292.3,186.8 293.3,187.0 294.3,187.2 295.3,187.4 296.2,187.5 297.2,187.7 298.2,187.9 299.2,188.0 300.2,188.2 301.2,188.3 302.1,188.5 303.1,188.6 304.1,188.8 305.1,188.9 306.1,189.0 307.1,189.1 308.1,189.3 309.0,189.4 310.0,189.5 311.0,189.6 312.0,189.7 313.0,189.8 314.0,189.9 314.9,190.0 315.9,190.0 316.9,190.1 317.9,190.2 318.9,190.2 319.9,190.3 320.9,190.4 321.8,190.4 322.8,190.5 323.8,190.5 324.8,190.6 325.8,190.6 326.8,190.6 327.7,190.6 328.7,190.7 329.7,190.7 330.7,190.7 331.7,190.7 332.7,190.7 333.6,190.7 334.6,190.7 335.6,190.7 336.6,190.7 337.6,190.7 338.6,190.6 339.6,190.6 340.5,190.6 341.5,190.5 342.5,190.5 343.5,190.4 344.5,190.4 345.5,190.3 346.4,190.3 347.4,190.2 348.4,190.1 349.4,190.1 350.4,190.0 351.4,189.9 352.4,189.8 353.3,189.7 354.3,189.7 355.3,189.6 356.3,189.5 357.3,189.4 358.3,189.2 359.2,189.1 360.2,189.0 361.2,188.9 362.2,188.8 363.2,188.6 364.2,188.5 365.2,188.4 366.1,188.2 367.1,188.1 368.1,187.9 369.1,187.8 370.1,187.6 371.1,187.5 372.0,187.3 373.0,187.1 374.0,186.9 375.0,186.8 376.0,186.6 377.0,186.4 377.9,186.2 378.9,186.0 379.9,185.8 380.9,185.6 381.9,185.4 382.9,185.2"/>
<polyline stroke="#ffa500" stroke-dasharray="0.8 1.8 0.9 1.6 7.0 2.9" points="49.1,47.9 50.1,48.6 51.1,49.3 52.1,50.0 53.1,50.7 54.1,51.4 55.1,52.1 56.0,52.8 57.0,53.6 58.0,54.3 59.0,55.0 60.0,55.7 61.0,56.4 61.9,57.1 62.9,57.8 63.9,58.5 64.9,59.2 65.9,59.9 66.9,60.6 67.9,61.4 68.8,62.1 69.8,62.8 70.8,63.5 71.8,64.2 72.8,64.9 73.8,65.6 74.7,66.3 75.7,67.0 76.7,67.7 77.7,68.4 78.7,69.2 79.7,69.9 80.7,70.6 81.6,71.3 82.6,72.0 83.6,72.7 84.6,73.4 85.6,74.1 86.6,74.8 87.5,75.5 88.5,76.2 89.5,76.9 90.5,77.6 91.5,78.4 92.5,79.1 93.4,79.8 94.4,80.5 95.4,81.2 96.4,81.9 97.4,82.6 98.4,83.3 99.4,84.0 100.3,84.7 101.3,85.4 102.3,86.1 103.3,86.8 104.3,87.5 105.3,88.2 106.2,88.9 107.2,89.6 108.2,90.3 109.2,91.1 110.2,91.8 111.2,92.5 112.2,93.2 113.1,93.9 114.1,94.6 115.1,95.3 116.1,96.0 117.1,96.7 118.1,97.4 119.0,98.1 120.0,98.8 121.0,99.5 122.0,100.2 123.0,100.9 124.0,101.6 125.0,102.3 125.9,103.0 126.9,103.7 127.9,104.3 128.9,105.0 129.9,105.7 130.9,106.4 131.8,107.1 132.8,107.8 133.8,108.5 134.8,109.2 135.8,109.9 136.8,110.6 137.7,111.3 138.7,112.0 139.7,112.7 140.7,113.3 141.7,114.0 142.7,114.7 143.7,115.4 144.6,116.1 145.6,116.8 146.6,117.5 147.6,118.1 148.6,118.8 149.6,119.5 150.5,120.2 151.5,120.9 152.5,121.5 153.5,122.2 154.5,122.9 155.5,123.6 156.5,124.3 157.4,124.9 158.4,125.6 159.4,126.3 160.4,126.9 161.4,127.6 162.4,128.3 163.3,129.0 164.3,129.6 165.3,130.3 166.3,131.0 167.3,131.6 168.3,132.3 169.2,132.9 170.2,133.6 171.2,134.3 172.2,134.9 173.2,135.6 174.2,136.2 175.2,136.9 176.1,137.5 177.1,138.2 178.1,138.8 179.1,139.5 180.1,140.1 181.1,140.8 182.0,141.4 183.0,142.1 184.0,142.7 185.0,143.4 186.0,144.0 187.0,144.6 188.0,145.3 188.9,145.9 189.9,146.6 190.9,147.2 191.9,147.8 192.9,148.5 193.9,149.1 194.8,149.7 195.8,150.3 196.8,151.0 197.8,151.6 198.8,152.2 199.8,152.8 200.8,153.4 201.7,154.0 202.7,154.7 203.7,155.3 204.7,155.9 205.7,156.5 206.7,157.1 207.6,157.7 208.6,158.3 209.6,158.9 210.6,159.5 211.6,160.1 212.6,160.7 213.5,161.3 214.5,161.9 215.5,162.5 216.5,163.0 217.5,163.6 218.5,164.2 219.5,164.8 220.4,165.4 221.4,165.9 222.4,166.5 223.4,167.1 224.4,167.7 225.4,168.2 226.3,168.8 227.3,169.3 228.3,169.9 229.3,170.5 230.3,171.0 231.3,171.6 232.3,172.1 233.2,172.7 234.2,173.2 235.2,173.8 236.2,174.3 237.2,174.8 238.2,175.4 239.1,175.9 240.1,176.4 241.1,177.0 242.1,177.5 243.1,178.0 244.1,178.5 245.1,179.1 246.0,179.6 247.0,180.1 248.0,180.6 249.0,181.1 250.0,181.6 251.0,182.1 251.9,182.6 252.9,183.1 253.9,183.6 254.9,184.1 255.9,184.6 256.9,185.1 257.8,185.5 258.8,186.0 259.8,186.5 260.8,187.0 261.8,187.4 262.8,187.9 263.8,188.4 264.7,188.8 265.7,189.3 266.7,189.7 267.7,190.2 268.7,190.7 269.7,191.1 270.6,191.5 271.6,192.0 272.6,192.4 273.6,192.9 274.6,193.3 275.6,193.7 276.6,194.1 277.5,194.6 278.5,195.0 279.5,195.4 280.5,195.8 281.5,196.2 282.5,196.6 283.4,197.0 284.4,197.4 285.4,197.8 286.4,198.2 287.4,198.6 288.4,199.0 289.3,199.4 290.3,199.7 291.3,200.1 292.3,200.5 293.3,200.8 294.3,201.2 295.3,201.6 296.2,201.9 297.2,202.3 298.2,202.6 299.2,203.0 300.2,203.3 301.2,203.7 302.1,204.0 303.1,204.3 304.1,204.7 305.1,205.0 306.1,205.3 307.1,205.6 308.1,205.9 309.0,206.3 310.0,206.6 311.0,206.9 312.0,207.2 313.0,207.5 314.0,207.8 314.9,208.0 315.9,208.3 316.9,208.6 317.9,208.9 318.9,209.2 319.9,209.4 320.9,209.7 321.8,210.0 322.8,210.2 323.8,210.5 324.8,210.7 325.8,211.0 326.8,211.2 327.7,211.5 328.7,211.7 329.7,211.9 330.7,212.2 331.7,212.4 332.7,212.6 333.6,212.8 334.6,213.0 335.6,213.2 336.6,213.4 337.6,213.7 338.6,213.8 339.6,214.0 340.5,214.2 341.5,214.4 342.5,214.6 343.5,214.8 344.5,215.0 345.5,215.1 346.4,215.3 347.4,215.5 348.4,215.6 349.4,215.8 350.4,215.9 351.4,216.1 352.4,216.2 353.3,216.4 354.3,216.5 355.3,216.6 356.3,216.8 357.3,216.9 358.3,217.0 359.2,217.1 360.2,217.2 361.2,217.3 362.2,217.4 363.2,217.5 364.2,217.6 365.2,217.7 366.1,217.8 367.1,217.9 368.1,218.0 369.1,218.1 370.1,218.1 371.1,218.2 372.0,218.3 373.0,218.3 374.0,218.4 375.0,218.5 376.0,218.5 377.0,218.5 377.9,218.6 378.9,218.6 379.9,218.7 380.9,218.7 381.9,218.7 382.9,218.7"/>
<polyline stroke="#ee82ee" stroke-dasharray="0.9 1.3 6.8 2.5" points="49.1,47.9 50.1,48.6 51.1,49.3 52.1,50.0 53.1,50.7 54.1,51.4 55.1,52.1 56.0,52.8 57.0,53.6 58.0,54.3 59.0,55.0 60.0,55.7 61.0,56.4 61.9,57.1 62.9,57.8 63.9,58.5 64.9,59.2 65.9,59.9 66.9,60.6 67.9,61.4 68.8,62.1 69.8,62.8 70.8,63.5 71.8,64.2 72.8,64.9 73.8,65.6 74.7,66.3 75.7,67.0 76.7,67.7 77.7,68.4 78.7,69.2 79.7,69.9 80.7,70.6 81.6,71.3 82.6,72.0 83.6,72.7 84.6,73.4 85.6,74.1 86.6,74.8 87.5,75.5 88.5,76.2 89.5,77.0 90.5,77.7 91.5,78.4 92.5,79.1 93.4,79.8 94.4,80.5 95.4,81.2 96.4,81.9 97.4,82.6 98.4,83.3 99.4,84.0 100.3,84.7 101.3,85.4 102.3,86.2 103.3,86.9 104.3,87.6 105.3,88.3 106.2,89.0 107.2,89.7 108.2,90.4 109.2,91.1 110.2,91.8 111.2,92.5 112.2,93.2 113.1,93.9 114.1,94.6 115.1,95.3 116.1,96.0 117.1,96.8 118.1,97.5 119.0,98.2 120.0,98.9 121.0,99.6 122.0,100.3 123.0,101.0 124.0,101.7 125.0,102.4 125.9,103.1 126.9,103.8 127.9,104.5 128.9,105.2 129.9,105.9 130.9,106.6 131.8,107.3 132.8,108.0 133.8,108.7 134.8,109.4 135.8,110.1 136.8,110.8 137.7,111.5 138.7,112.2 139.7,112.9 140.7,113.6 141.7,114.3 142.7,115.0 143.7,115.7 144.6,116.4 145.6,117.1 146.6,117.8 147.6,118.5 148.6,119.2 149.6,119.9 150.5,120.6 151.5,121.3 152.5,122.0 153.5,122.7 154.5,123.4 155.5,124.1 156.5,124.8 157.4,125.5 158.4,126.2 159.4,126.9 160.4,127.5 161.4,128.2 162.4,128.9 163.3,129.6 164.3,130.3 165.3,131.0 166.3,131.7 167.3,132.4 168.3,133.1 169.2,133.8 170.2,134.4 171.2,135.1 172.2,135.8 173.2,136.5 174.2,137.2 175.2,137.9 176.1,138.6 177.1,139.2 178.1,139.9 179.1,140.6 180.1,141.3 181.1,142.0 182.0,142.6 183.0,143.3 184.0,144.0 185.0,144.7 186.0,145.4 187.0,146.0 188.0,146.7 188.9,147.4 189.9,148.1 190.9,148.7 191.9,149.4 192.9,150.1 193.9,150.8 194.8,151.4 195.8,152.1 196.8,152.8 197.8,153.4 198.8,154.1 199.8,154.8 200.8,155.4 201.7,156.1 202.7,156.8 203.7,157.4 204.7,158.1 205.7,158.8 206.7,159.4 207.6,160.1 208.6,160.8 209.6,161.4 210.6,162.1 211.6,162.7 212.6,163.4 213.5,164.0 214.5,164.7 215.5,165.4 216.5,166.0 217.5,166.7 218.5,167.3 219.5,168.0 220.4,168.6 221.4,169.3 222.4,169.9 223.4,170.5 224.4,171.2 225.4,171.8 226.3,172.5 227.3,173.1 228.3,173.8 229.3,174.4 230.3,175.0 231.3,175.7 232.3,176.3 233.2,176.9 234.2,177.6 235.2,178.2 236.2,178.8 237.2,179.5 238.2,180.1 239.1,180.7 240.1,181.3 241.1,182.0 242.1,182.6 243.1,183.2 244.1,183.8 245.1,184.5 246.0,185.1 247.0,185.7 248.0,186.3 249.0,186.9 250.0,187.5 251.0,188.2 251.9,188.8 252.9,189.4 253.9,190.0 254.9,190.6 255.9,191.2 256.9,191.8 257.8,192.4 258.8,193.0 259.8,193.6 260.8,194.2 261.8,194.8 262.8,195.4 263.8,196.0 264.7,196.6 265.7,197.2 266.7,197.7 267.7,198.3 268.7,198.9 269.7,199.5 270.6,200.1 271.6,200.7 272.6,201.2 273.6,201.8 274.6,202.4 275.6,203.0 276.6,203.5 277.5,204.1 278.5,204.7 279.5,205.3 280.5,205.8 281.5,206.4 282.5,206.9 283.4,207.5 284.4,208.1 285.4,208.6 286.4,209.2 287.4,209.7 288.4,210.3 289.3,210.8 290.3,211.4 291.3,211.9 292.3,212.5 293.3,213.0 294.3,213.6 295.3,214.1 296.2,214.6 297.2,215.2 298.2,215.7 299.2,216.2 300.2,216.8 301.2,217.3 302.1,217.8 303.1,218.3 304.1,218.9 305.1,219.4 306.1,219.9 307.1,220.4 308.1,220.9 309.0,221.4 310.0,221.9 311.0,222.4 312.0,223.0 313.0,223.5 314.0,224.0 314.9,224.5 315.9,224.9 316.9,225.4 317.9,225.9 318.9,226.4 319.9,226.9 320.9,227.4 321.8,227.9 322.8,228.4 323.8,228.8 324.8,229.3 325.8,229.8 326.8,230.3 327.7,230.7 328.7,231.2 329.7,231.7 330.7,232.1 331.7,232.6 332.7,233.1 333.6,233.5 334.6,234.0 335.6,234.4 336.6,234.9 337.6,235.3 338.6,235.8 339.6,236.2 340.5,236.6 341.5,237.1 342.5,237.5 343.5,237.9 344.5,238.4 345.5,238.8 346.4,239.2 347.4,239.7 348.4,240.1 349.4,240.5 350.4,240.9 351.4,241.3 352.4,241.7 353.3,242.1 354.3,242.6 355.3,243.0 356.3,243.4 357.3,243.8 358.3,244.1 359.2,244.5 360.2,244.9 361.2,245.3 362.2,245.7 363.2,246.1 364.2,246.5 365.2,246.8 366.1,247.2 367.1,247.6 368.1,248.0 369.1,248.3 370.1,248.7 371.1,249.1 372.0,249.4 373.0,249.8 374.0,250.1 375.0,250.5 376.0,250.8 377.0,251.2 377.9,251.5 378.9,251.9 379.9,252.2 380.9,252.5 381.9,252.9 382.9,253.2"/>
</g>
<g stroke="#000" stroke-width="0.58" fill="none">
<line x1="49.35" y1="11.05" x2="49.35" y2="266.76" stroke-width="0.58"/>
<line x1="382.87" y1="11.05" x2="382.87" y2="266.76" stroke-width="0.85"/>
<line x1="49.05" y1="11.45" x2="383.27" y2="11.45" stroke-width="0.82"/>
<line x1="49.05" y1="266.46" x2="383.27" y2="266.46" stroke-width="0.58"/>
<line x1="49.35" y1="11.45" x2="54.05" y2="11.45"/>
<line x1="382.87" y1="11.45" x2="378.17" y2="11.45"/>
<line x1="49.35" y1="47.88" x2="54.05" y2="47.88"/>
<line x1="382.87" y1="47.88" x2="378.17" y2="47.88"/>
<line x1="49.35" y1="84.31" x2="54.05" y2="84.31"/>
<line x1="382.87" y1="84.31" x2="378.17" y2="84.31"/>
<line x1="49.35" y1="120.74" x2="54.05" y2="120.74"/>
<line x1="382.87" y1="120.74" x2="378.17" y2="120.74"/>
<line x1="49.35" y1="157.17" x2="54.05" y2="157.17"/>
<line x1="382.87" y1="157.17" x2="378.17" y2="157.17"/>
<line x1="49.35" y1="193.60" x2="54.05" y2="193.60"/>
<line x1="382.87" y1="193.60" x2="378.17" y2="193.60"/>
<line x1="49.35" y1="230.03" x2="54.05" y2="230.03"/>
<line x1="382.87" y1="230.03" x2="378.17" y2="230.03"/>
<line x1="82.52" y1="266.46" x2="82.52" y2="261.76"/>
<line x1="82.52" y1="11.45" x2="82.52" y2="16.15"/>
<line x1="115.89" y1="266.46" x2="115.89" y2="261.76"/>
<line x1="115.89" y1="11.45" x2="115.89" y2="16.15"/>
<line x1="149.27" y1="266.46" x2="149.27" y2="261.76"/>
<line x1="149.27" y1="11.45" x2="149.27" y2="16.15"/>
<line x1="182.64" y1="266.46" x2="182.64" y2="261.76"/>
<line x1="182.64" y1="11.45" x2="182.64" y2="16.15"/>
<line x1="216.01" y1="266.46" x2="216.01" y2="261.76"/>
<line x1="216.01" y1="11.45" x2="216.01" y2="16.15"/>
<line x1="249.38" y1="266.46" x2="249.38" y2="261.76"/>
<line x1="249.38" y1="11.45" x2="249.38" y2="16.15"/>
<line x1="282.75" y1="266.46" x2="282.75" y2="261.76"/>
<line x1="282.75" y1="11.45" x2="282.75" y2="16.15"/>
<line x1="316.13" y1="266.46" x2="316.13" y2="261.76"/>
<line x1="316.13" y1="11.45" x2="316.13" y2="16.15"/>
<line x1="349.50" y1="266.46" x2="349.50" y2="261.76"/>
<line x1="349.50" y1="11.45" x2="349.50" y2="16.15"/>
<line x1="382.87" y1="11.45" x2="382.87" y2="16.15"/>
</g>
<text transform="translate(43.55 15.00) scale(1.110 1)" font-size="9.60px" text-anchor="end">0.1</text>
<text transform="translate(43.55 51.43) scale(1.110 1)" font-size="9.60px" text-anchor="end">0</text>
<text transform="translate(43.55 87.86) scale(1.060 1)" font-size="9.60px" text-anchor="end">-0.1</text>
<text transform="translate(43.55 124.29) scale(1.060 1)" font-size="9.60px" text-anchor="end">-0.2</text>
<text transform="translate(43.55 160.72) scale(1.060 1)" font-size="9.60px" text-anchor="end">-0.3</text>
<text transform="translate(43.55 197.15) scale(1.060 1)" font-size="9.60px" text-anchor="end">-0.4</text>
<text transform="translate(43.55 233.58) scale(1.060 1)" font-size="9.60px" text-anchor="end">-0.5</text>
<text transform="translate(43.55 270.01) scale(1.060 1)" font-size="9.60px" text-anchor="end">-0.6</text>
<text transform="translate(84.32 280.70) scale(1.130 1)" font-size="9.60px" text-anchor="middle">0.1</text>
<text transform="translate(117.69 280.70) scale(1.130 1)" font-size="9.60px" text-anchor="middle">0.2</text>
<text transform="translate(151.07 280.70) scale(1.130 1)" font-size="9.60px" text-anchor="middle">0.3</text>
<text transform="translate(184.44 280.70) scale(1.130 1)" font-size="9.60px" text-anchor="middle">0.4</text>
<text transform="translate(217.81 280.70) scale(1.130 1)" font-size="9.60px" text-anchor="middle">0.5</text>
<text transform="translate(251.18 280.70) scale(1.130 1)" font-size="9.60px" text-anchor="middle">0.6</text>
<text transform="translate(284.55 280.70) scale(1.130 1)" font-size="9.60px" text-anchor="middle">0.7</text>
<text transform="translate(317.93 280.70) scale(1.130 1)" font-size="9.60px" text-anchor="middle">0.8</text>
<text transform="translate(351.30 280.70) scale(1.130 1)" font-size="9.60px" text-anchor="middle">0.9</text>
<text transform="translate(383.97 280.70) scale(1.130 1)" font-size="9.60px" text-anchor="middle">1</text>
<text transform="translate(216.00 296.30) scale(1.090 1)" font-size="9.60px" text-anchor="middle">scale factor (a)</text>
<g transform="translate(12.4 138.8) rotate(-90)">
<text transform="scale(1.040 1)" font-size="9.60px" text-anchor="middle">dS<tspan font-size="7.60px" dy="1.8">c</tspan><tspan dy="-1.8">(a)/da</tspan></text>
</g>
<text transform="translate(74.40 174.30) scale(1.130 1)" font-size="9.60px" text-anchor="start">(</text>
<text transform="translate(77.40 174.30) scale(1.130 1)" font-size="9.60px" text-anchor="start">&#937;</text>
<text transform="translate(84.60 176.00) scale(1.120 1)" font-size="7.60px" text-anchor="start">m0</text>
<text transform="translate(97.30 174.30) scale(1.130 1)" font-size="9.60px" text-anchor="start">,</text>
<text transform="translate(99.80 174.30) scale(1.130 1)" font-size="9.60px" text-anchor="start">&#937;</text>
<text transform="translate(106.80 176.00) scale(1.120 1)" font-size="7.60px" text-anchor="start">&#923;0</text>
<text transform="translate(117.50 174.30) scale(1.130 1)" font-size="9.60px" text-anchor="start">)</text>
<text transform="translate(124.00 174.30) scale(1.270 1)" font-size="9.60px" text-anchor="start">=</text>
<text transform="translate(174.10 174.30) scale(1.130 1)" font-size="9.60px" text-anchor="end">(0.1,0.9)</text>
<line x1="179.5" y1="170.50" x2="205.0" y2="170.50" stroke="#ff00ff" stroke-width="0.82" stroke-dasharray="4.4 3.0 1.0 1.9"/>
<text transform="translate(74.40 185.05) scale(1.130 1)" font-size="9.60px" text-anchor="start">(</text>
<text transform="translate(77.40 185.05) scale(1.130 1)" font-size="9.60px" text-anchor="start">&#937;</text>
<text transform="translate(84.60 186.75) scale(1.120 1)" font-size="7.60px" text-anchor="start">m0</text>
<text transform="translate(97.30 185.05) scale(1.130 1)" font-size="9.60px" text-anchor="start">,</text>
<text transform="translate(99.80 185.05) scale(1.130 1)" font-size="9.60px" text-anchor="start">&#937;</text>
<text transform="translate(106.80 186.75) scale(1.120 1)" font-size="7.60px" text-anchor="start">&#923;0</text>
<text transform="translate(117.50 185.05) scale(1.130 1)" font-size="9.60px" text-anchor="start">)</text>
<text transform="translate(124.00 185.05) scale(1.270 1)" font-size="9.60px" text-anchor="start">=</text>
<text transform="translate(174.10 185.05) scale(1.130 1)" font-size="9.60px" text-anchor="end">(0.2,0.8)</text>
<line x1="179.5" y1="181.25" x2="207.6" y2="181.25" stroke="#0000ff" stroke-width="0.82" stroke-dasharray="3.6 5.3"/>
<text transform="translate(74.40 195.80) scale(1.130 1)" font-size="9.60px" text-anchor="start">(</text>
<text transform="translate(77.40 195.80) scale(1.130 1)" font-size="9.60px" text-anchor="start">&#937;</text>
<text transform="translate(84.60 197.50) scale(1.120 1)" font-size="7.60px" text-anchor="start">m0</text>
<text transform="translate(97.30 195.80) scale(1.130 1)" font-size="9.60px" text-anchor="start">,</text>
<text transform="translate(99.80 195.80) scale(1.130 1)" font-size="9.60px" text-anchor="start">&#937;</text>
<text transform="translate(106.80 197.50) scale(1.120 1)" font-size="7.60px" text-anchor="start">&#923;0</text>
<text transform="translate(117.50 195.80) scale(1.130 1)" font-size="9.60px" text-anchor="start">)</text>
<text transform="translate(124.00 195.80) scale(1.270 1)" font-size="9.60px" text-anchor="start">=</text>
<text transform="translate(174.10 195.80) scale(1.130 1)" font-size="9.60px" text-anchor="end">(0.3,0.7)</text>
<line x1="179.5" y1="192.00" x2="207.6" y2="192.00" stroke="#ff0000" stroke-width="0.82"/>
<text transform="translate(74.40 206.55) scale(1.130 1)" font-size="9.60px" text-anchor="start">(</text>
<text transform="translate(77.40 206.55) scale(1.130 1)" font-size="9.60px" text-anchor="start">&#937;</text>
<text transform="translate(84.60 208.25) scale(1.120 1)" font-size="7.60px" text-anchor="start">m0</text>
<text transform="translate(97.30 206.55) scale(1.130 1)" font-size="9.60px" text-anchor="start">,</text>
<text transform="translate(99.80 206.55) scale(1.130 1)" font-size="9.60px" text-anchor="start">&#937;</text>
<text transform="translate(106.80 208.25) scale(1.120 1)" font-size="7.60px" text-anchor="start">&#923;0</text>
<text transform="translate(117.50 206.55) scale(1.130 1)" font-size="9.60px" text-anchor="start">)</text>
<text transform="translate(124.00 206.55) scale(1.270 1)" font-size="9.60px" text-anchor="start">=</text>
<text transform="translate(174.10 206.55) scale(1.130 1)" font-size="9.60px" text-anchor="end">(0.4,0.6)</text>
<line x1="179.5" y1="202.75" x2="207.6" y2="202.75" stroke="#00ff00" stroke-width="0.82" stroke-dasharray="5.6 2.8 1.4 2.8"/>
<text transform="translate(74.40 217.30) scale(1.130 1)" font-size="9.60px" text-anchor="start">(</text>
<text transform="translate(77.40 217.30) scale(1.130 1)" font-size="9.60px" text-anchor="start">&#937;</text>
<text transform="translate(84.60 219.00) scale(1.120 1)" font-size="7.60px" text-anchor="start">m0</text>
<text transform="translate(97.30 217.30) scale(1.130 1)" font-size="9.60px" text-anchor="start">,</text>
<text transform="translate(99.80 217.30) scale(1.130 1)" font-size="9.60px" text-anchor="start">&#937;</text>
<text transform="translate(106.80 219.00) scale(1.120 1)" font-size="7.60px" text-anchor="start">&#923;0</text>
<text transform="translate(117.50 217.30) scale(1.130 1)" font-size="9.60px" text-anchor="start">)</text>
<text transform="translate(124.00 217.30) scale(1.270 1)" font-size="9.60px" text-anchor="start">=</text>
<text transform="translate(174.10 217.30) scale(1.130 1)" font-size="9.60px" text-anchor="end">(0.5,0.5)</text>
<line x1="179.5" y1="213.50" x2="207.6" y2="213.50" stroke="#0000ff" stroke-width="0.82" stroke-dasharray="6.4 2.4 1.4 2.4 0.9 2.4"/>
<text transform="translate(74.40 228.05) scale(1.130 1)" font-size="9.60px" text-anchor="start">(</text>
<text transform="translate(77.40 228.05) scale(1.130 1)" font-size="9.60px" text-anchor="start">&#937;</text>
<text transform="translate(84.60 229.75) scale(1.120 1)" font-size="7.60px" text-anchor="start">m0</text>
<text transform="translate(97.30 228.05) scale(1.130 1)" font-size="9.60px" text-anchor="start">,</text>
<text transform="translate(99.80 228.05) scale(1.130 1)" font-size="9.60px" text-anchor="start">&#937;</text>
<text transform="translate(106.80 229.75) scale(1.120 1)" font-size="7.60px" text-anchor="start">&#923;0</text>
<text transform="translate(117.50 228.05) scale(1.130 1)" font-size="9.60px" text-anchor="start">)</text>
<text transform="translate(124.00 228.05) scale(1.270 1)" font-size="9.60px" text-anchor="start">=</text>
<text transform="translate(174.10 228.05) scale(1.130 1)" font-size="9.60px" text-anchor="end">(0.6,0.4)</text>
<line x1="179.5" y1="224.25" x2="207.6" y2="224.25" stroke="#a52a2a" stroke-width="0.82" stroke-dasharray="3.9 5.0"/>
<text transform="translate(74.40 238.80) scale(1.130 1)" font-size="9.60px" text-anchor="start">(</text>
<text transform="translate(77.40 238.80) scale(1.130 1)" font-size="9.60px" text-anchor="start">&#937;</text>
<text transform="translate(84.60 240.50) scale(1.120 1)" font-size="7.60px" text-anchor="start">m0</text>
<text transform="translate(97.30 238.80) scale(1.130 1)" font-size="9.60px" text-anchor="start">,</text>
<text transform="translate(99.80 238.80) scale(1.130 1)" font-size="9.60px" text-anchor="start">&#937;</text>
<text transform="translate(106.80 240.50) scale(1.120 1)" font-size="7.60px" text-anchor="start">&#923;0</text>
<text transform="translate(117.50 238.80) scale(1.130 1)" font-size="9.60px" text-anchor="start">)</text>
<text transform="translate(124.00 238.80) scale(1.270 1)" font-size="9.60px" text-anchor="start">=</text>
<text transform="translate(174.10 238.80) scale(1.130 1)" font-size="9.60px" text-anchor="end">(0.7,0.3)</text>
<line x1="179.5" y1="235.00" x2="207.6" y2="235.00" stroke="#000000" stroke-width="0.82" stroke-dasharray="4 3.6"/>
<text transform="translate(74.40 249.55) scale(1.130 1)" font-size="9.60px" text-anchor="start">(</text>
<text transform="translate(77.40 249.55) scale(1.130 1)" font-size="9.60px" text-anchor="start">&#937;</text>
<text transform="translate(84.60 251.25) scale(1.120 1)" font-size="7.60px" text-anchor="start">m0</text>
<text transform="translate(97.30 249.55) scale(1.130 1)" font-size="9.60px" text-anchor="start">,</text>
<text transform="translate(99.80 249.55) scale(1.130 1)" font-size="9.60px" text-anchor="start">&#937;</text>
<text transform="translate(106.80 251.25) scale(1.120 1)" font-size="7.60px" text-anchor="start">&#923;0</text>
<text transform="translate(117.50 249.55) scale(1.130 1)" font-size="9.60px" text-anchor="start">)</text>
<text transform="translate(124.00 249.55) scale(1.270 1)" font-size="9.60px" text-anchor="start">=</text>
<text transform="translate(174.10 249.55) scale(1.130 1)" font-size="9.60px" text-anchor="end">(0.8,0.2)</text>
<line x1="179.5" y1="245.75" x2="207.6" y2="245.75" stroke="#ffa500" stroke-width="0.82" stroke-dasharray="0.8 2.0 1.0 1.8 7.8 3.4"/>
<text transform="translate(74.40 260.30) scale(1.130 1)" font-size="9.60px" text-anchor="start">(</text>
<text transform="translate(77.40 260.30) scale(1.130 1)" font-size="9.60px" text-anchor="start">&#937;</text>
<text transform="translate(84.60 262.00) scale(1.120 1)" font-size="7.60px" text-anchor="start">m0</text>
<text transform="translate(97.30 260.30) scale(1.130 1)" font-size="9.60px" text-anchor="start">,</text>
<text transform="translate(99.80 260.30) scale(1.130 1)" font-size="9.60px" text-anchor="start">&#937;</text>
<text transform="translate(106.80 262.00) scale(1.120 1)" font-size="7.60px" text-anchor="start">&#923;0</text>
<text transform="translate(117.50 260.30) scale(1.130 1)" font-size="9.60px" text-anchor="start">)</text>
<text transform="translate(124.00 260.30) scale(1.270 1)" font-size="9.60px" text-anchor="start">=</text>
<text transform="translate(174.10 260.30) scale(1.130 1)" font-size="9.60px" text-anchor="end">(0.9,0.1)</text>
<line x1="179.5" y1="256.50" x2="205.0" y2="256.50" stroke="#ee82ee" stroke-width="0.82" stroke-dasharray="1.0 1.5 8.0 3.5"/>
</svg>
</body></html>
